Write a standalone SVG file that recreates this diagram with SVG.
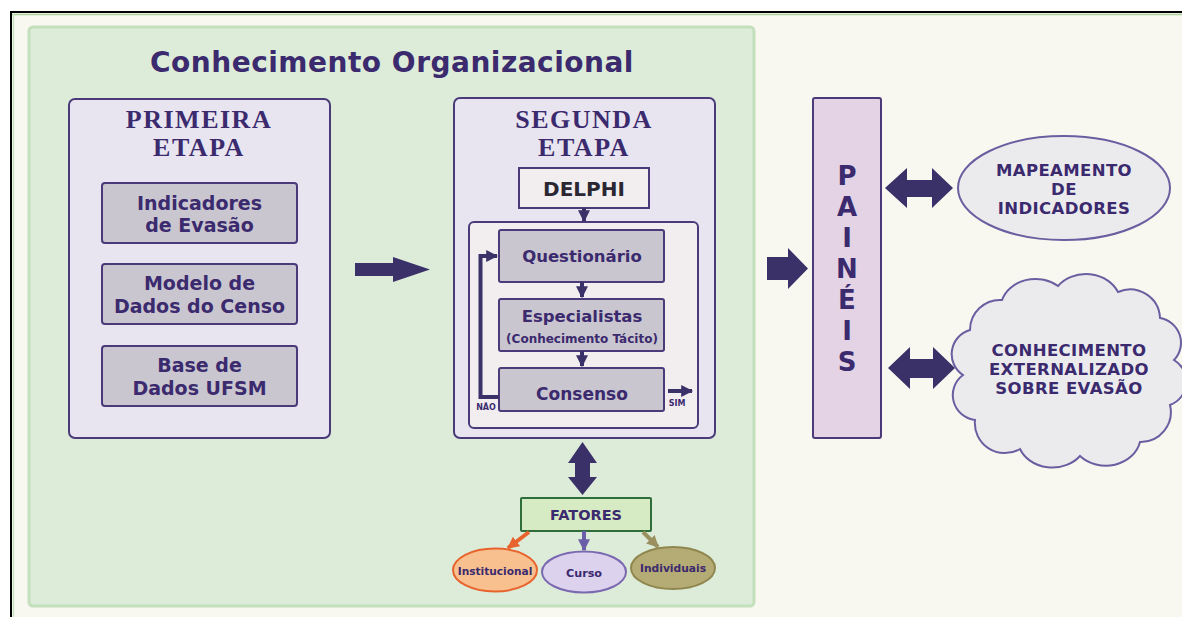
<svg xmlns="http://www.w3.org/2000/svg" width="1182" height="617" viewBox="0 0 1182 617">
<style>
.t{font-family:"DejaVu Sans","Liberation Sans",sans-serif;font-weight:bold;fill:#3b2a6e;text-anchor:middle}
.s{font-family:"Liberation Serif","DejaVu Serif",serif;font-weight:bold;fill:#3b2a6e;text-anchor:middle;font-size:26px;letter-spacing:1.5px}
.stage{fill:#e8e5f0;stroke:#4a3a7a;stroke-width:2}
.gbox{fill:#c9c6d0;stroke:#4a3a7a;stroke-width:2}
.pbox{fill:#f2eef0;stroke:#4a3a7a;stroke-width:2}
.arr{fill:#3a3169}
.ln{stroke:#3a3169;stroke-width:4;fill:none}
.big{font-size:16.5px;letter-spacing:0.4px}
.pl{font-size:26px}
</style>
<defs>
<marker id="ah" viewBox="0 0 10 10" refX="9" refY="5" markerWidth="3" markerHeight="3" orient="auto"><path d="M0,0 L10,5 L0,10 z" fill="#3a3169"/></marker>
<marker id="ahO" viewBox="0 0 10 10" refX="9" refY="5" markerWidth="3" markerHeight="3" orient="auto"><path d="M0,0 L10,5 L0,10 z" fill="#e8642e"/></marker>
<marker id="ahP" viewBox="0 0 10 10" refX="9" refY="5" markerWidth="3" markerHeight="3" orient="auto"><path d="M0,0 L10,5 L0,10 z" fill="#6b5ea8"/></marker>
<marker id="ahY" viewBox="0 0 10 10" refX="9" refY="5" markerWidth="3" markerHeight="3" orient="auto"><path d="M0,0 L10,5 L0,10 z" fill="#9a9060"/></marker>
</defs>
<rect width="1182" height="617" fill="#ffffff"/>
<rect x="11" y="13" width="1171" height="604" fill="#f8f7f0"/>
<line x1="10" y1="12" x2="1182" y2="12" stroke="#000" stroke-width="2"/>
<line x1="11" y1="12" x2="11" y2="617" stroke="#000" stroke-width="2"/>
<line x1="12" y1="14.5" x2="1182" y2="14.5" stroke="#a8d49c" stroke-width="1.5"/>
<line x1="13.5" y1="14" x2="13.5" y2="617" stroke="#c8e4c0" stroke-width="1.5"/>

<g id="panel">
<rect x="29" y="27" width="725" height="579" rx="4" fill="#ddecd9" stroke="#c3dfbb" stroke-width="3"/>
<text class="t" x="392" y="72" font-size="28" letter-spacing="0.5">Conhecimento Organizacional</text>
</g>

<g id="primeira">
<rect class="stage" x="69" y="99" width="261" height="339" rx="6"/>
<text class="s" x="199" y="128">PRIMEIRA</text>
<text class="s" x="199" y="156">ETAPA</text>
</g>
<g id="indicadores">
<rect class="gbox" x="102" y="183" width="195" height="60" rx="3"/>
<text class="t" x="199.5" y="210" font-size="19">Indicadores</text>
<text class="t" x="199.5" y="232" font-size="19">de Evasão</text>
</g>
<g id="modelo">
<rect class="gbox" x="102" y="264" width="195" height="60" rx="3"/>
<text class="t" x="199.5" y="290" font-size="19">Modelo de</text>
<text class="t" x="199.5" y="313" font-size="19">Dados do Censo</text>
</g>
<g id="base">
<rect class="gbox" x="102" y="346" width="195" height="60" rx="3"/>
<text class="t" x="199.5" y="372" font-size="19">Base de</text>
<text class="t" x="199.5" y="395" font-size="19">Dados UFSM</text>
</g>

<g id="segunda">
<rect class="stage" x="454" y="98" width="261" height="340" rx="6"/>
<text class="s" x="584" y="128">SEGUNDA</text>
<text class="s" x="584" y="156">ETAPA</text>
</g>
<g id="delphi">
<rect class="pbox" x="519" y="168" width="130" height="40"/>
<text class="t" x="584" y="196" font-size="20" style="fill:#2a2632">DELPHI</text>
</g>
<g id="ciclo">
<rect class="pbox" x="469" y="222" width="229" height="206" rx="5"/>
</g>
<g id="questionario">
<rect class="gbox" x="499" y="230" width="165" height="52" rx="2"/>
<text class="t" x="582" y="262" font-size="16.5">Questionário</text>
</g>
<g id="especialistas">
<rect class="gbox" x="499" y="299" width="165" height="52" rx="2"/>
<text class="t" x="582" y="322" font-size="16.5">Especialistas</text>
<text class="t" x="582" y="343" font-size="12">(Conhecimento Tácito)</text>
</g>
<g id="consenso">
<rect class="gbox" x="499" y="368" width="165" height="43" rx="2"/>
<text class="t" x="582" y="400" font-size="17">Consenso</text>
</g>

<g id="fatores">
<rect x="521" y="498" width="130" height="33" fill="#d6eac4" stroke="#2f6e3a" stroke-width="2" rx="1"/>
<text class="t" x="586" y="520" font-size="14.5">FATORES</text>
</g>
<g id="institucional">
<ellipse cx="495" cy="570" rx="42" ry="21.5" fill="#f9c08f" stroke="#e8642e" stroke-width="2"/>
<text class="t" x="495" y="575" font-size="10.6">Institucional</text>
</g>
<g id="curso">
<ellipse cx="584" cy="572" rx="42" ry="20.5" fill="#dcd2ee" stroke="#7a68b0" stroke-width="2"/>
<text class="t" x="584" y="577" font-size="11.2">Curso</text>
</g>
<g id="individuais">
<ellipse cx="673" cy="568" rx="42" ry="21" fill="#b5ab74" stroke="#8f874f" stroke-width="2"/>
<text class="t" x="673" y="572" font-size="10.7">Individuais</text>
</g>

<g id="paineis">
<rect x="813" y="98" width="68" height="340" rx="2" fill="#e3d3e4" stroke="#4a3a7a" stroke-width="2"/>
<text class="t pl" x="847" y="185">P</text>
<text class="t pl" x="847" y="216">A</text>
<text class="t pl" x="847" y="247">I</text>
<text class="t pl" x="847" y="278">N</text>
<text class="t pl" x="847" y="309">É</text>
<text class="t pl" x="847" y="340">I</text>
<text class="t pl" x="847" y="371">S</text>
</g>

<g id="mapeamento">
<ellipse cx="1064" cy="188" rx="106" ry="52" fill="#ebebee" stroke="#6b5ea0" stroke-width="2"/>
<text class="t big" x="1064" y="176">MAPEAMENTO</text>
<text class="t big" x="1064" y="195">DE</text>
<text class="t big" x="1064" y="214">INDICADORES</text>
</g>

<g id="conhecimento">
<path d="M970,330 A30,30 0 0 1 1002,300 A35,30 0 0 1 1058,286 A35,30 0 0 1 1118,292 A30,30 0 0 1 1160,318 A25,25 0 0 1 1174,360 A25,25 0 0 1 1170,405 A30,30 0 0 1 1140,442 A35,30 0 0 1 1080,456 A35,30 0 0 1 1020,449 A30,30 0 0 1 975,420 A25,25 0 0 1 963,375 A25,25 0 0 1 970,330 Z" fill="#ebebee" stroke="#6b5ea0" stroke-width="2"/>
<text class="t big" x="1069" y="356">CONHECIMENTO</text>
<text class="t big" x="1069" y="375">EXTERNALIZADO</text>
<text class="t big" x="1069" y="394">SOBRE EVASÃO</text>
</g>

<g id="connectors">
<polygon class="arr" points="355,263 393,263 393,257 430,269.5 393,282 393,276 355,276"/>
<polygon class="arr" points="767,257 788,257 788,248 808,268.5 788,289 788,280 767,280"/>
<polygon class="arr" points="885,188 907,168 907,180 932,180 932,168 953,188 932,208 932,197 907,197 907,208"/>
<polygon class="arr" points="888,368 910,347 910,359 933,359 933,347 955,368 933,389 933,378 910,378 910,389"/>
<polygon class="arr" points="582.5,442 597,463 590,463 590,477 597,477 582.5,495 568,477 575,477 575,463 568,463"/>
<line class="ln" x1="584" y1="208" x2="584" y2="221" marker-end="url(#ah)"/>
<line class="ln" x1="582" y1="282" x2="582" y2="297" marker-end="url(#ah)"/>
<line class="ln" x1="582" y1="351" x2="582" y2="366" marker-end="url(#ah)"/>
<polyline class="ln" points="499,397 480.5,397 480.5,256 497,256" marker-end="url(#ah)"/>
<line class="ln" x1="668" y1="391" x2="692" y2="391" marker-end="url(#ah)"/>
<text class="t" x="486" y="410" font-size="8">NÃO</text>
<text class="t" x="677" y="406" font-size="8">SIM</text>
<line x1="529" y1="532" x2="508" y2="548" stroke="#e8642e" stroke-width="4" marker-end="url(#ahO)"/>
<line x1="584" y1="531" x2="584" y2="550" stroke="#6b5ea8" stroke-width="4" marker-end="url(#ahP)"/>
<line x1="643" y1="532" x2="658" y2="547" stroke="#9a9060" stroke-width="4" marker-end="url(#ahY)"/>
</g>
</svg>
